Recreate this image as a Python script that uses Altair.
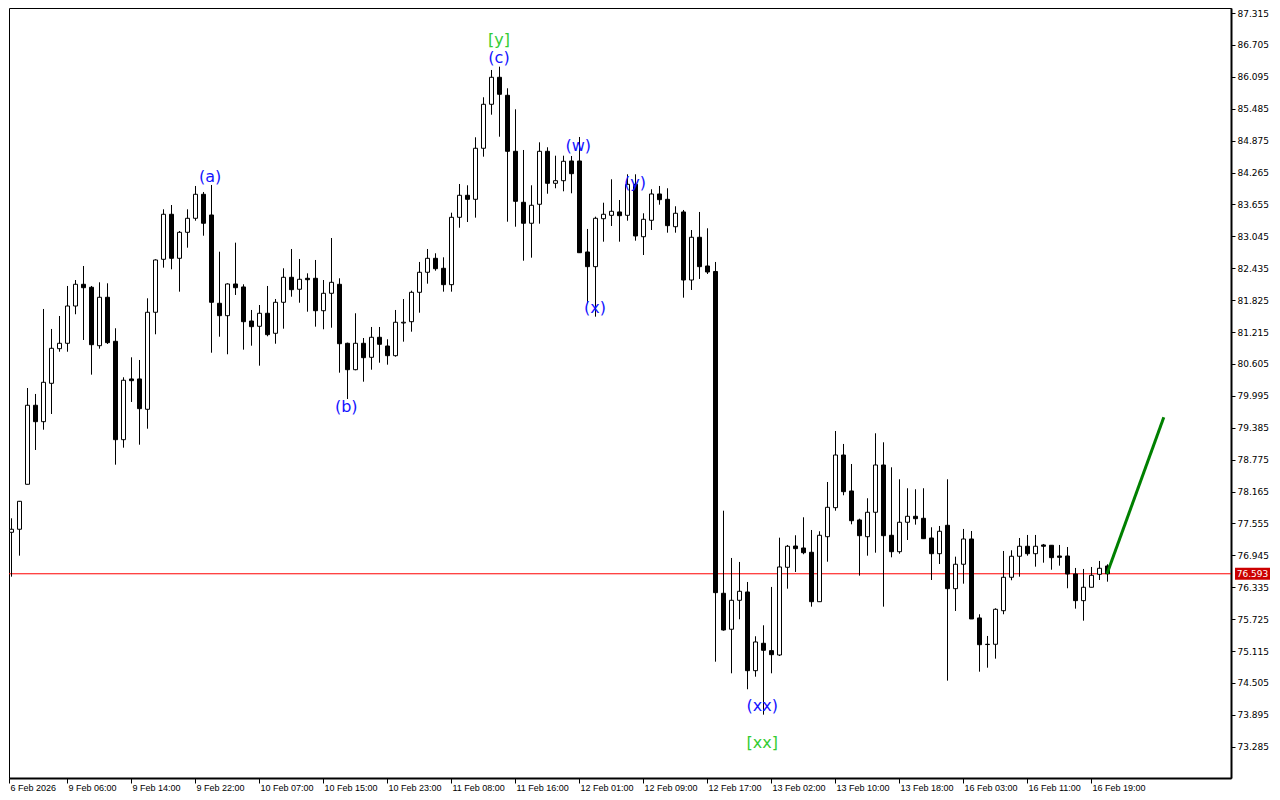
import altair as alt
import pandas as pd

opens = [77.207, 77.386, 77.444, 78.304, 79.815, 79.501, 80.235, 80.897, 81.000, 81.713,
         82.128, 82.071, 80.954, 81.880, 81.038, 79.157, 80.318, 80.318, 79.738, 81.593,
         82.606, 83.467, 82.625, 83.122, 83.390, 83.849, 83.453, 81.765, 81.528, 82.134,
         82.077, 81.426, 81.325, 81.574, 81.191, 81.784, 82.262, 82.033, 82.243, 82.243,
         81.623, 81.956, 82.128, 81.000, 80.495, 81.000, 80.732, 81.115, 80.948, 80.763,
         81.388, 81.413, 81.975, 82.358, 82.625, 82.434, 82.121, 83.409, 83.830, 83.753,
         84.729, 85.570, 86.086, 85.742, 84.671, 83.696, 83.295, 83.658, 84.671, 84.059,
         84.109, 84.486, 84.486, 82.746, 82.465, 83.382, 83.447, 83.511, 83.447, 84.040,
         83.038, 83.352, 83.855, 83.753, 83.229, 83.511, 82.210, 83.027, 82.478, 82.373,
         76.220, 75.532, 76.086, 76.245, 74.740, 75.264, 75.123, 75.040, 76.717, 77.124,
         77.086, 77.004, 76.059, 77.302, 77.857, 78.864, 78.176, 77.622, 77.302, 77.769,
         78.673, 77.329, 77.015, 77.578, 77.692, 77.654, 77.277, 76.977, 77.520, 76.308,
         76.775, 77.258, 75.748, 75.245, 75.245, 75.887, 76.526, 76.928, 77.119, 76.977,
         77.144, 77.138, 76.933, 76.933, 76.589, 76.079, 76.335, 76.583, 76.742]
highs = [77.411, 77.654, 77.985, 80.145, 80.031, 81.656, 81.274, 81.522, 82.096, 82.210,
         82.478, 82.096, 82.166, 82.147, 81.287, 80.350, 80.732, 80.681, 81.860, 82.606,
         83.562, 83.644, 83.147, 83.562, 84.008, 83.893, 84.027, 82.751, 82.147, 82.924,
         82.128, 81.637, 81.732, 82.096, 81.847, 82.434, 82.803, 82.612, 82.338, 82.593,
         82.210, 83.013, 82.243, 81.012, 81.574, 81.101, 81.312, 81.312, 81.077, 81.637,
         81.847, 82.006, 82.555, 82.803, 82.721, 82.644, 83.497, 84.046, 84.021, 84.939,
         85.704, 86.226, 86.289, 85.876, 85.474, 84.696, 84.021, 84.843, 84.748, 84.587,
         84.587, 84.581, 84.945, 83.186, 83.421, 83.688, 84.136, 83.740, 84.231, 84.231,
         83.486, 83.945, 84.008, 83.964, 83.620, 83.549, 83.166, 83.511, 83.199, 82.555,
         77.799, 76.895, 76.819, 76.436, 75.398, 75.608, 76.341, 77.283, 77.144, 77.329,
         77.673, 77.430, 77.406, 78.348, 79.323, 79.075, 78.692, 77.646, 78.037, 79.279,
         79.107, 78.629, 78.400, 78.228, 78.209, 78.228, 77.482, 77.507, 78.400, 76.920,
         77.450, 77.411, 75.819, 75.404, 75.933, 77.029, 77.042, 77.277, 77.335, 77.335,
         77.163, 77.138, 77.144, 77.105, 76.704, 76.685, 76.723, 76.838, 76.775]
lows = [77.182, 76.537, 76.939, 78.304, 78.960, 79.348, 79.648, 80.839, 80.839, 81.555,
        81.063, 80.400, 80.897, 80.987, 78.679, 79.004, 79.878, 79.061, 79.367, 81.172,
        82.446, 82.415, 81.987, 82.828, 83.344, 83.057, 80.820, 81.126, 80.790, 81.924,
        80.878, 80.954, 80.572, 81.134, 80.992, 81.279, 81.891, 81.776, 81.604, 81.318,
        81.268, 81.298, 80.438, 79.935, 80.484, 80.266, 80.495, 80.629, 80.591, 80.744,
        81.031, 81.222, 81.585, 82.140, 82.388, 81.987, 81.987, 83.210, 83.319, 83.402,
        84.568, 85.371, 84.950, 83.325, 83.229, 82.579, 82.637, 83.287, 83.860, 83.964,
        83.906, 83.868, 82.727, 81.765, 81.509, 82.943, 83.243, 82.943, 83.344, 82.962,
        82.688, 83.166, 83.650, 83.115, 83.115, 81.872, 82.019, 82.230, 82.325, 74.912,
        75.505, 74.690, 75.723, 74.385, 74.625, 73.899, 74.690, 75.021, 76.308, 76.627,
        76.966, 75.964, 76.059, 76.824, 77.799, 78.094, 77.539, 76.557, 76.939, 76.996,
        75.964, 76.908, 76.977, 77.239, 77.532, 77.264, 76.474, 76.780, 74.549, 75.882,
        76.404, 75.729, 74.721, 74.797, 74.970, 75.819, 76.469, 76.537, 76.939, 76.729,
        76.805, 76.671, 76.748, 76.316, 75.926, 75.696, 76.335, 76.474, 76.442]
closes = [77.386, 77.444, 77.979, 79.815, 79.501, 80.254, 80.904, 81.000, 81.713, 82.128,
          82.063, 80.973, 81.880, 81.012, 79.157, 80.293, 80.285, 79.750, 81.593, 82.593,
          83.467, 82.625, 83.122, 83.390, 83.849, 83.295, 81.784, 81.528, 82.134, 82.063,
          81.413, 81.318, 81.574, 81.165, 81.784, 82.262, 82.025, 82.224, 82.216, 81.623,
          81.956, 82.166, 80.992, 80.495, 81.000, 80.725, 81.115, 80.981, 80.763, 81.402,
          81.402, 81.975, 82.358, 82.625, 82.426, 82.121, 83.409, 83.830, 83.753, 84.729,
          85.570, 86.086, 85.761, 84.671, 83.715, 83.295, 83.639, 84.671, 84.059, 84.109,
          84.480, 84.243, 82.732, 82.465, 83.390, 83.467, 83.524, 83.440, 84.040, 83.052,
          83.371, 83.855, 83.746, 83.249, 83.486, 82.210, 83.027, 82.465, 82.363, 76.232,
          75.518, 76.086, 76.258, 74.740, 75.289, 75.130, 75.046, 76.723, 77.119, 77.073,
          76.996, 76.059, 77.329, 77.864, 78.864, 78.163, 77.608, 77.321, 77.769, 78.673,
          77.321, 77.015, 77.578, 77.692, 77.646, 77.264, 76.977, 77.406, 76.308, 76.775,
          77.258, 75.729, 75.237, 75.240, 75.914, 76.526, 76.928, 77.119, 76.977, 77.119,
          77.119, 76.901, 76.908, 76.589, 76.079, 76.335, 76.564, 76.698, 76.593]

tick_bars = [0.75, 8, 16, 24, 32, 40, 48, 56, 64, 72, 80, 88, 96, 104, 112, 120, 128, 136]
tick_labels = ["6 Feb 2026", "9 Feb 06:00", "9 Feb 14:00", "9 Feb 22:00", "10 Feb 07:00",
               "10 Feb 15:00", "10 Feb 23:00", "11 Feb 08:00", "11 Feb 16:00", "12 Feb 01:00",
               "12 Feb 09:00", "12 Feb 17:00", "13 Feb 02:00", "13 Feb 10:00", "13 Feb 18:00",
               "16 Feb 03:00", "16 Feb 11:00", "16 Feb 19:00"]
price_ticks = [73.285, 73.895, 74.505, 75.115, 75.725, 76.335, 76.945, 77.555, 78.165,
               78.775, 79.385, 79.995, 80.605, 81.215, 81.825, 82.435, 83.045, 83.655,
               84.265, 84.875, 85.485, 86.095, 86.705, 87.315]

ann_text = ["[y]", "(c)", "(a)", "(b)", "(w)", "(y)", "(x)", "(xx)", "[xx]"]
ann_bar = [62, 62, 25.9, 42.9, 71.9, 79, 74, 94.9, 94.9]
ann_price = [86.799, 86.455, 84.180, 79.782, 84.772, 84.065, 81.675, 74.065, 73.358]
ann_color = ["#33cc33", "#1414ff", "#1414ff", "#1414ff", "#1414ff", "#1414ff", "#1414ff",
             "#1414ff", "#33cc33"]

forecast_bar = [138, 145.1]
forecast_price = [76.593, 79.585]

current_price = [76.593]
current_label = ["76.593"]

df = pd.DataFrame({"bar": list(range(len(opens))), "open": opens, "high": highs,
                   "low": lows, "close": closes})
ann = pd.DataFrame({"text": ann_text, "bar": ann_bar, "price": ann_price, "color": ann_color})
fc = pd.DataFrame({"bar": forecast_bar, "price": forecast_price})
cur = pd.DataFrame({"price": current_price, "label": current_label})

W, H = 1222, 770
xscale = alt.Scale(domain=[0.75, 153.5], nice=False, zero=False, padding=0)
yscale = alt.Scale(domain=[72.688, 87.411], nice=False, zero=False, padding=0)

label_expr = "[" + ",".join("'" + s + "'" for s in tick_labels) + "][round(datum.value/8)]"
xaxis = alt.Axis(values=tick_bars, labelExpr=label_expr, title=None, orient="bottom",
                 grid=False, labelAlign="left", labelOffset=1, labelPadding=0, tickSize=5,
                 tickColor="black", domainColor="black", domainWidth=2,
                 labelFont="Liberation Sans", labelFontSize=9, labelColor="black",
                 labelOverlap=False, labelFlush=False, labelBaseline="top")
yaxis = alt.Axis(values=price_ticks, format=".3f", orient="right", title=None, grid=False,
                 tickSize=4, labelPadding=2, tickColor="black", domainColor="black",
                 domainWidth=2, labelFont="DejaVu Sans", labelFontSize=9,
                 labelColor="black", labelOverlap=False, labelFlush=False)

X = alt.X("bar:Q", scale=xscale, axis=xaxis)

base = alt.Chart(df)

price_line = alt.Chart(cur).mark_rule(color="red", strokeWidth=1).encode(
    y=alt.Y("price:Q", scale=yscale, axis=yaxis)
)

wicks = base.mark_rule(color="black", strokeWidth=1, xOffset=0.5, clip=True).encode(
    x=X,
    y=alt.Y("low:Q", scale=yscale, axis=yaxis),
    y2="high:Q",
)

bodies = base.mark_bar(size=4, xOffset=0.5, stroke="black", strokeWidth=1, clip=True).encode(
    x=X,
    y=alt.Y("open:Q", scale=yscale, axis=yaxis),
    y2="close:Q",
    fill=alt.condition("datum.close > datum.open", alt.value("white"), alt.value("black")),
)

forecast = alt.Chart(fc).mark_line(color="#008000", strokeWidth=3).encode(
    x=X,
    y=alt.Y("price:Q", scale=yscale, axis=yaxis),
)

labels = alt.Chart(ann).mark_text(font="DejaVu Sans", fontSize=16, align="center",
                                  baseline="middle").encode(
    x=X,
    y=alt.Y("price:Q", scale=yscale, axis=yaxis),
    text="text:N",
    color=alt.Color("color:N", scale=None),
)

box = alt.Chart(cur).transform_calculate(
    lo="datum.price - 0.115", hi="datum.price + 0.115"
).mark_rect(color="#cc0000").encode(
    x=alt.value(1226),
    x2=alt.value(1261),
    y=alt.Y("lo:Q", scale=yscale, axis=yaxis),
    y2="hi:Q",
)

box_text = alt.Chart(cur).mark_text(color="white", font="DejaVu Sans", fontSize=9,
                                    align="center", baseline="middle").encode(
    x=alt.value(1243.5),
    y=alt.Y("price:Q", scale=yscale, axis=yaxis),
    text="label:N",
)

chart = alt.layer(price_line, wicks, bodies, forecast, labels, box, box_text).properties(
    width=W, height=H, padding=0, background="white"
).configure_view(stroke="black", strokeWidth=1)

chart.save("out.html", embed_options={"renderer": "svg", "actions": False})
